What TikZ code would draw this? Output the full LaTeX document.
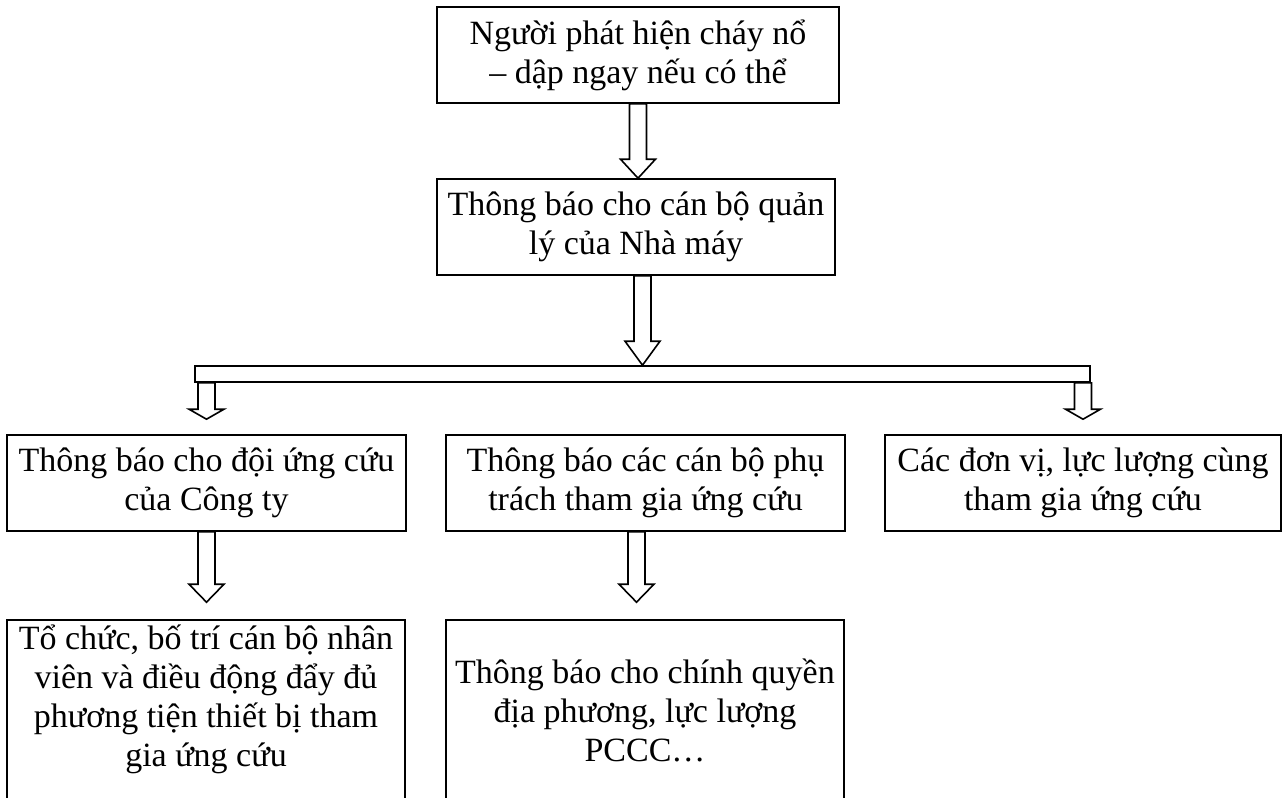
\documentclass[tikz,border=0pt]{standalone}
\usepackage{fontspec}
\setmainfont{Liberation Serif}
\usetikzlibrary{calc}

% hollow block arrow: [head length]{from}{to}
\newcommand{\fatarrow}[3][19]{%
  \draw[fat] let \p1=(#2), \p2=(#3) in
    (\x1-8.5pt,\y1) -- (\x1+8.5pt,\y1) -- (\x1+8.5pt,\y2+#1pt) -- (\x1+17.5pt,\y2+#1pt)
    -- (\x1,\y2) -- (\x1-17.5pt,\y2+#1pt) -- (\x1-8.5pt,\y2+#1pt) -- cycle;}

\begin{document}
\begin{tikzpicture}[
    x=1pt, y=-1pt,
    box/.style={draw, line width=1.6pt, align=center, inner sep=0pt, minimum height=96, font=\fontsize{34}{39}\selectfont},
    tallbox/.style={box, minimum height=180},
    fat/.style={draw, line width=1.6pt, fill=white, line join=miter},
]
\useasboundingbox (0,0) rectangle (1283,798);
\clip (0,0) rectangle (1283,798);

% Top
\node[box, minimum width=402] (detect) at (638,55) {Người phát hiện cháy nổ\\– dập ngay nếu có thể};
\node[box, minimum width=398] (manager) at (636,227) {Thông báo cho cán bộ quản\\lý của Nhà máy};

% Split bar
\node[draw, line width=1.6pt, inner sep=0pt, minimum width=895, minimum height=16] (bar) at (642.5,374) {};

% Middle row
\node[box, minimum width=399] (team) at (206.5,483) {Thông báo cho đội ứng cứu\\của Công ty};
\node[box, minimum width=399] (staff) at (645.5,483) {Thông báo các cán bộ phụ\\trách tham gia ứng cứu};
\node[box, minimum width=396] (units) at (1083,483) {Các đơn vị, lực lượng cùng\\tham gia ứng cứu};

% Bottom row
\node[tallbox, minimum width=398, text depth=28pt] (organise) at (206,710) {Tổ chức, bố trí cán bộ nhân\\viên và điều động đẩy đủ\\phương tiện thiết bị tham\\gia ứng cứu};
\node[tallbox, minimum width=398] (local) at (645,710) {Thông báo cho chính quyền\\địa phương, lực lượng\\PCCC…};

% Arrows
\fatarrow{detect.south}{detect.south |- manager.north}
\fatarrow[24]{manager.south -| bar.north}{bar.north}
\fatarrow[10]{bar.south -| team.north}{$(team.north)+(0,-15)$}
\fatarrow[10]{bar.south -| units.north}{$(units.north)+(0,-15)$}
\fatarrow[18]{team.south}{$(organise.north)+(0,-17)$}
\fatarrow[18]{$(staff.south)+(-9,0)$}{$(local.north)+(0,-17)$}

\end{tikzpicture}
\end{document}
